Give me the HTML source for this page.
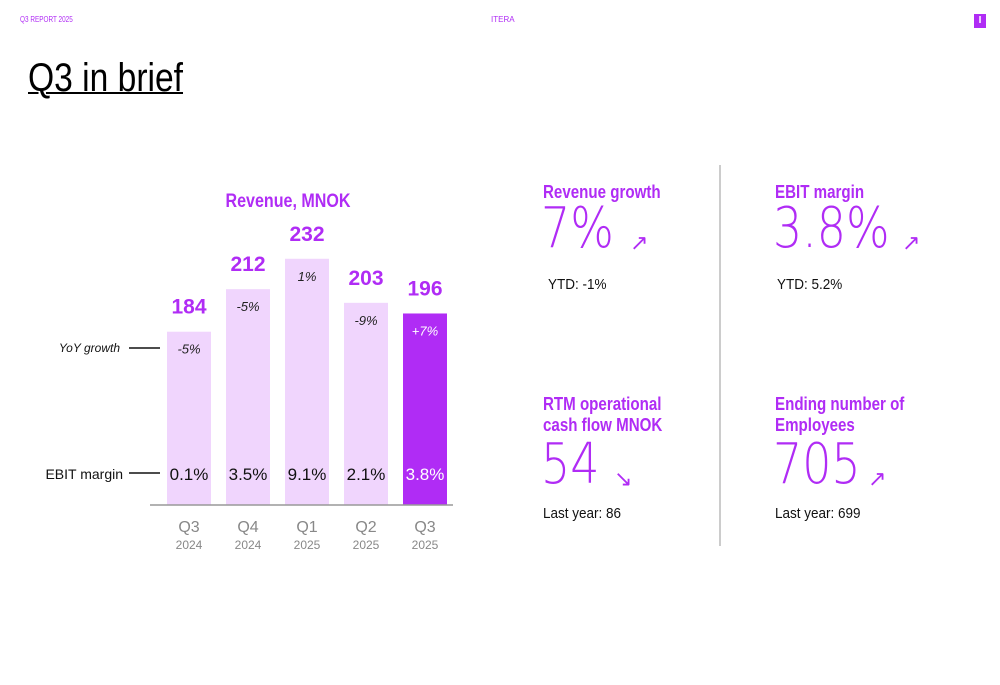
<!DOCTYPE html>
<html><head><meta charset="utf-8"><style>
body{margin:0;width:1000px;height:685px;background:#fff;position:relative;overflow:hidden;font-family:"Liberation Sans",sans-serif}
.a{position:absolute;white-space:nowrap}
.h{color:#b02cf5;font-weight:bold;font-size:18px;line-height:21px;transform:scaleX(0.84);transform-origin:left top}
.big{color:#b02cf5;font-family:"DejaVu Sans","Liberation Sans",sans-serif;font-weight:200;font-size:56px;letter-spacing:0;transform:scaleX(0.82);transform-origin:left top}
.arr{color:#b02cf5;font-size:22px}
.sub{font-size:15px;color:#111;transform:scaleX(0.9);transform-origin:left top}
</style></head><body>
<div class="a" style="left:20px;top:15px;font-size:8px;color:#b02cf5;transform:scaleX(0.8);transform-origin:left top">Q3 REPORT 2025</div>
<div class="a" style="left:491px;top:15px;font-size:8px;color:#b02cf5">ITERA</div>
<div class="a" style="left:974px;top:14px;width:12px;height:14px;background:#b02cf5;color:#fff;font-size:10px;font-weight:bold;text-align:center;line-height:14px">I</div>
<div class="a" style="left:28px;top:56px;font-size:40px;text-decoration:underline;text-decoration-thickness:2px;color:#000;transform:scaleX(0.84);transform-origin:left top">Q3 in brief</div>

<svg class="a" style="left:0;top:0" width="1000" height="685" id="chart">
<text x="288" y="207" text-anchor="middle" fill="#b02cf5" font-weight="bold" font-size="19" textLength="125" lengthAdjust="spacingAndGlyphs">Revenue, MNOK</text>
<text x="120" y="352" text-anchor="end" font-style="italic" font-size="12" fill="#111">YoY growth</text>
<line x1="129" y1="348" x2="160" y2="348" stroke="#111" stroke-width="1.5"/>
<text x="123" y="479" text-anchor="end" font-size="14" fill="#111">EBIT margin</text>
<line x1="129" y1="473" x2="160" y2="473" stroke="#111" stroke-width="1.5"/>
<g id="bars"></g>
<line x1="150" y1="505" x2="453" y2="505" stroke="#999" stroke-width="1.5"/>
</svg>

<div class="a" style="left:719px;top:165px;width:2px;height:381px;background:#ccc"></div>

<div class="a h" style="left:543px;top:182px">Revenue growth</div>
<div class="a big" style="left:541px;top:196px">7%</div>
<div class="a arr" style="left:630px;top:230px">↗</div>
<div class="a sub" style="left:548px;top:276px">YTD: -1%</div>

<div class="a h" style="left:775px;top:182px">EBIT margin</div>
<div class="a big" style="left:773px;top:196px">3.8%</div>
<div class="a arr" style="left:902px;top:230px">↗</div>
<div class="a sub" style="left:777px;top:276px">YTD: 5.2%</div>

<div class="a h" style="left:543px;top:394px">RTM operational<br>cash flow MNOK</div>
<div class="a big" style="left:541px;top:432px">54</div>
<div class="a arr" style="left:614px;top:466px">↘</div>
<div class="a sub" style="left:543px;top:505px">Last year: 86</div>

<div class="a h" style="left:775px;top:394px">Ending number of<br>Employees</div>
<div class="a big" style="left:773px;top:432px">705</div>
<div class="a arr" style="left:868px;top:466px">↗</div>
<div class="a sub" style="left:775px;top:505px">Last year: 699</div>

<script>
const quarters=["Q3","Q4","Q1","Q2","Q3"];
const years=["2024","2024","2025","2025","2025"];
const revenue=[184,212,232,203,196];
const yoyGrowth=["-5%","-5%","1%","-9%","+7%"];
const ebitMargin=["0.1%","3.5%","9.1%","2.1%","3.8%"];
const NS="http://www.w3.org/2000/svg";
const g=document.getElementById('bars');
const base=505,x0=167,step=59,bw=44;
function y(v){return base-(v-70)*1.52;}
function t(x,yy,s,attrs){const e=document.createElementNS(NS,'text');e.setAttribute('x',x);e.setAttribute('y',yy);e.textContent=s;for(const k in attrs)e.setAttribute(k,attrs[k]);g.appendChild(e);return e;}
revenue.forEach((v,i)=>{
  const last=i===revenue.length-1;
  const x=x0+i*step, cx=x+bw/2, top=y(v);
  const r=document.createElementNS(NS,'rect');
  r.setAttribute('x',x);r.setAttribute('y',top);r.setAttribute('width',bw);r.setAttribute('height',base-top);
  r.setAttribute('fill',last?'#b02cf5':'#f0d5fd');
  
  
  g.appendChild(r);
  let e=t(cx,top-18,v,{'text-anchor':'middle','fill':'#b02cf5','font-weight':'bold','font-size':'21'});
  
  
  e=t(cx,top+22,yoyGrowth[i],{'text-anchor':'middle','fill':last?'#fff':'#222','font-style':'italic','font-size':'13'});
  
  
  e=t(cx,480,ebitMargin[i],{'text-anchor':'middle','fill':last?'#fff':'#111','font-size':'17'});
  
  
  e=t(cx,532,quarters[i],{'text-anchor':'middle','fill':'#888','font-size':'16'});
  
  
  e=t(cx,549,years[i],{'text-anchor':'middle','fill':'#888','font-size':'12'});
  
  
});
</script>
</body></html>
